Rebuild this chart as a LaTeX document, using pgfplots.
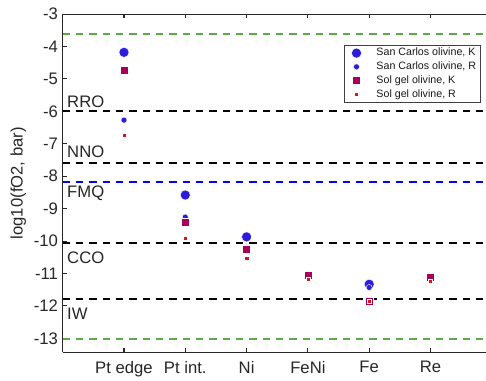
\documentclass[border=0pt]{standalone}
\usepackage{pgfplots}
\pgfplotsset{compat=1.18}
\usepackage{fontspec}
\setmainfont{Liberation Sans}
\definecolor{scblue}{RGB}{42,28,218}
\definecolor{sgmaroon}{RGB}{168,0,88}
\definecolor{sgred}{RGB}{212,22,22}
\definecolor{lgreen}{RGB}{90,172,70}
\begin{document}
\begin{tikzpicture}
\begin{axis}[
  name=ax,
  scale only axis, width=317.5pt, height=253.7pt,
  xmin=0, xmax=6.905, ymin=-13.43, ymax=-3,
  axis x line*=box, axis y line*=left,
  axis line style={line width=0.8pt, black!85},
  xtick={1,2,3,4,5,6},
  xticklabels={Pt edge, Pt int., Ni, FeNi, Fe, Re},
  ytick={-13,-12,-11,-10,-9,-8,-7,-6,-5,-4,-3},
  tick align=inside, major tick length=3pt,
  tick style={line width=0.8pt, black!85},
  /pgf/number format/assume math mode=true,
  tick label style={font=\fontsize{12.5}{14}\selectfont, black!85},
  xticklabel style={yshift=-3pt},
  ylabel={log10(fO2, bar)},
  ylabel style={font=\fontsize{12.5}{14}\selectfont, black!85, yshift=-1pt},
  clip=false,
  legend style={at={(rel axis cs:0.987,0.910)}, anchor=north east,
    font=\fontsize{8}{9}\selectfont, text=black!90, draw=black!75, line width=0.6pt,
    inner sep=1pt, nodes={inner ysep=1.5pt}},
  legend cell align=left,
  legend image code/.code={\path[draw=none,fill=none] (-8pt,0) -- (13pt,0); \draw[#1] plot coordinates {(0cm,0cm)};},
]
% reference buffers
\addplot[lgreen, line width=1.1pt, dash pattern=on 5.5pt off 4.5pt, forget plot] coordinates {(0,-3.62) (6.905,-3.62)};
\addplot[black, line width=1.3pt, dash pattern=on 5.5pt off 4.5pt, forget plot] coordinates {(0,-6.0) (6.905,-6.0)};
\addplot[black, line width=1.3pt, dash pattern=on 5.5pt off 4.5pt, forget plot] coordinates {(0,-7.6) (6.905,-7.6)};
\addplot[blue, line width=1.3pt, dash pattern=on 5.5pt off 4.5pt, forget plot] coordinates {(0,-8.18) (6.905,-8.18)};
\addplot[black, line width=1.3pt, dash pattern=on 5.5pt off 4.5pt, forget plot] coordinates {(0,-10.07) (6.905,-10.07)};
\addplot[black, line width=1.3pt, dash pattern=on 5.5pt off 4.5pt, forget plot] coordinates {(0,-11.78) (6.905,-11.78)};
\addplot[lgreen, line width=1.1pt, dash pattern=on 5.5pt off 4.5pt, forget plot] coordinates {(0,-13.02) (6.905,-13.02)};
% data
\addplot[only marks, mark=*, mark size=3.75pt, mark options={fill=scblue, draw=white, line width=0.3pt}]
  coordinates {(1,-4.18) (2,-8.58) (3,-9.87) (5,-11.33)};
\addlegendentry{San Carlos olivine, K}
\addplot[only marks, mark=*, mark size=2.25pt, mark options={fill=scblue, draw=white, line width=0.3pt}]
  coordinates {(1,-6.27) (2,-9.26) (3,-10.2) (5,-11.43)};
\addlegendentry{San Carlos olivine, R}
\addplot[only marks, mark=square*, mark size=3pt, mark options={fill=sgmaroon, draw=white, line width=0.3pt}]
  coordinates {(1,-4.73) (2,-9.43) (3,-10.25) (4,-11.04) (5,-11.84) (6,-11.12)};
\addlegendentry{Sol gel olivine, K}
\addplot[only marks, mark=square*, mark size=1.6pt, mark options={fill=sgred, draw=white, line width=0.3pt}]
  coordinates {(1,-6.73) (2,-9.90) (3,-10.53) (4,-11.17) (5,-11.86) (6,-11.23)};
\addlegendentry{Sol gel olivine, R}
% buffer labels
\node[anchor=west, inner sep=0, font=\fontsize{12.5}{14}\selectfont, black!85] at (axis cs:0.07,-5.70) {RRO};
\node[anchor=west, inner sep=0, font=\fontsize{12.5}{14}\selectfont, black!85] at (axis cs:0.07,-7.25) {NNO};
\node[anchor=west, inner sep=0, font=\fontsize{12.5}{14}\selectfont, black!85] at (axis cs:0.07,-8.52) {FMQ};
\node[anchor=west, inner sep=0, font=\fontsize{12.5}{14}\selectfont, black!85] at (axis cs:0.07,-10.50) {CCO};
\node[anchor=west, inner sep=0, font=\fontsize{12.5}{14}\selectfont, black!85] at (axis cs:0.07,-12.25) {IW};
\end{axis}
\pgfresetboundingbox
\path[use as bounding box] (ax.south west) ++(-47pt,-21.5pt) rectangle ++(364.5pt,285.75pt);
\end{tikzpicture}
\end{document}
